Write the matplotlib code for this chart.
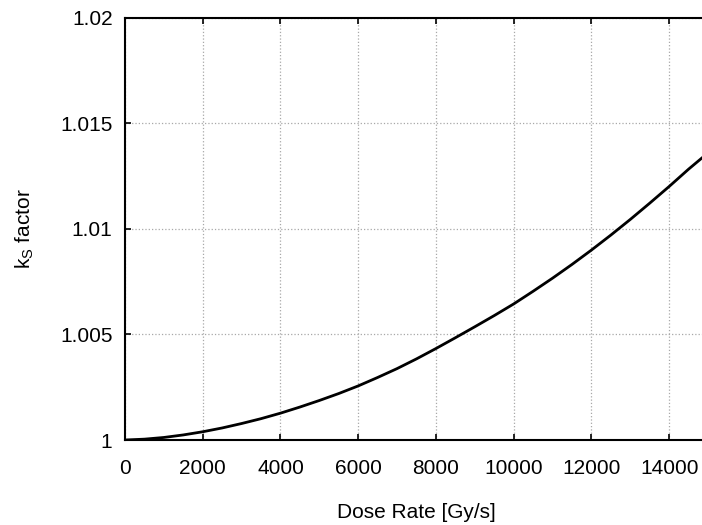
import numpy as np
import matplotlib
matplotlib.use("Agg")
import matplotlib.pyplot as plt

plt.rcParams['font.family'] = ['Liberation Sans', 'DejaVu Sans']
plt.rcParams['mathtext.fontset'] = 'custom'
plt.rcParams['mathtext.rm'] = 'Liberation Sans'

# dose rate [Gy/s] and k_S factor
dose_rate = [0, 500, 1000, 1500, 2000, 2500, 3000, 3500, 4000, 4500,
             5000, 5500, 6000, 6500, 7000, 7500, 8000, 8500, 9000, 9500,
             10000, 10500, 11000, 11500, 12000, 12500, 13000, 13500,
             14000, 14500, 14850]
ks_factor = [1.00000, 1.00004, 1.00012, 1.00024, 1.00039, 1.00057, 1.00078,
             1.00101, 1.00127, 1.00156, 1.00187, 1.00220, 1.00256, 1.00296,
             1.00338, 1.00384, 1.00433, 1.00484, 1.00536, 1.00589, 1.00644,
             1.00704, 1.00766, 1.00831, 1.00899, 1.00970, 1.01044, 1.01121,
             1.01200, 1.01282, 1.01336]

x_ticks = [0, 2000, 4000, 6000, 8000, 10000, 12000, 14000]
y_ticks = [1, 1.005, 1.01, 1.015, 1.02]
y_tick_labels = ['1', '1.005', '1.01', '1.015', '1.02']

fig = plt.figure(figsize=(7.02, 5.25), dpi=100)
ax = fig.add_axes([125 / 702, 85 / 525, 583 / 702, 422.5 / 525])

ax.plot(dose_rate, ks_factor, color='black', linewidth=2.0, zorder=3)

ax.set_xlim(0, 15000)
ax.set_ylim(1, 1.02)
ax.set_xticks(x_ticks)
ax.set_xticklabels([str(t) for t in x_ticks])
ax.set_yticks(y_ticks)
ax.set_yticklabels(y_tick_labels)

ax.grid(True, linestyle=':', color='#a8a8a8', linewidth=0.9)
ax.tick_params(direction='in', length=4, width=1.2, labelsize=15,
               top=True, right=True, pad=9)
ax.tick_params(axis='x', pad=14)
for s in ax.spines.values():
    s.set_linewidth(1.5)

ax.set_xlabel('Dose Rate [Gy/s]', fontsize=15, labelpad=18)
ax.set_ylabel(r'k$_\mathregular{S}$ factor', fontsize=15, labelpad=17)

fig.savefig('out.png', dpi=100)
